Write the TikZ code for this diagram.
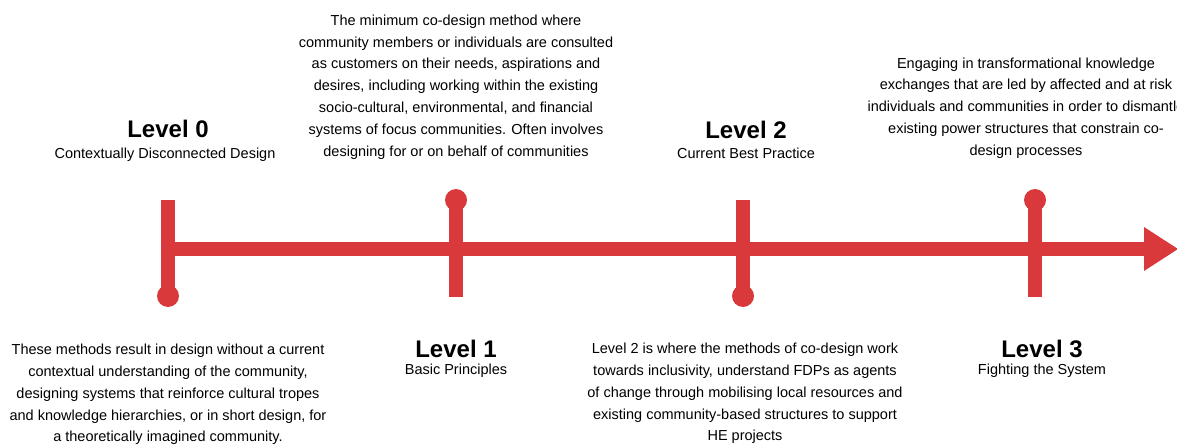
\documentclass[tikz,border=0pt]{standalone}
\usepackage{fontspec}
\setmainfont{Liberation Sans}
\definecolor{tl}{RGB}{218,57,60}
\begin{document}
\begin{tikzpicture}[x=1pt,y=-1pt,
  desc/.style={align=center, font=\fontsize{14.5}{21.8}\selectfont, inner sep=0, text=black},
  lvl/.style={font=\bfseries\fontsize{24}{28}\selectfont, inner sep=0},
  sub/.style={font=\fontsize{14.5}{17}\selectfont, inner sep=0},
  bar/.style={line width=14pt, draw=tl},
  pin/.style={circle, fill=tl, minimum size=22pt, inner sep=0}]
\useasboundingbox (0,0) rectangle (1177,444);
\clip (0,0) rectangle (1177,444);
% main line
\coordinate (s) at (168,249);
\coordinate (ab) at (1144,249);
\coordinate (tip) at (1178,249);
\draw[bar] (s) -- (ab);
\fill[tl] (1144,227) -- (tip) -- (1144,271) -- cycle;
% level 0
\node[pin] (p0) at (168,296) {};
\coordinate (t0) at (168,200);
\draw[bar] (t0) -- (p0.center);
% level 1
\node[pin] (p1) at (456,200) {};
\coordinate (b1) at (456,297);
\draw[bar] (p1.center) -- (b1);
% level 2
\node[pin] (p2) at (743,296) {};
\coordinate (t2) at (743,200);
\draw[bar] (t2) -- (p2.center);
% level 3
\node[pin] (p3) at (1035,200) {};
\coordinate (b3) at (1035,297);
\draw[bar] (p3.center) -- (b3);
% titles
\node[lvl] (l0) at (168,129) {Level 0};
\node[sub] (s0) at (165,155) {Contextually Disconnected Design};
\node[lvl] (l1) at (456,349) {Level 1};
\node[sub] (s1) at (456,371) {Basic Principles};
\node[lvl] (l2) at (746,130) {Level 2};
\node[sub] (s2) at (746,153) {Current Best Practice};
\node[lvl] (l3) at (1042,349) {Level 3};
\node[sub] (s3) at (1042,371) {Fighting the System};
% descriptions
\node[desc] (d1) at (456,87) {The minimum co-design method where\\community members or individuals are consulted\\as customers on their needs, aspirations and\\desires, including working within the existing\\socio-cultural, environmental, and financial\\systems of focus communities. Often involves\\designing for or on behalf of communities};
\node[desc] (d3) at (1026,108) {Engaging in transformational knowledge\\exchanges that are led by affected and at risk\\individuals and communities in order to dismantle\\existing power structures that constrain co-\\design processes};
\node[desc] (d0) at (168,394.5) {These methods result in design without a current\\contextual understanding of the community,\\designing systems that reinforce cultural tropes\\and knowledge hierarchies, or in short design, for\\a theoretically imagined community.};
\node[desc] (d2) at (745,393.5) {Level 2 is where the methods of co-design work\\towards inclusivity, understand FDPs as agents\\of change through mobilising local resources and\\existing community-based structures to support\\HE projects};
\end{tikzpicture}
\end{document}
